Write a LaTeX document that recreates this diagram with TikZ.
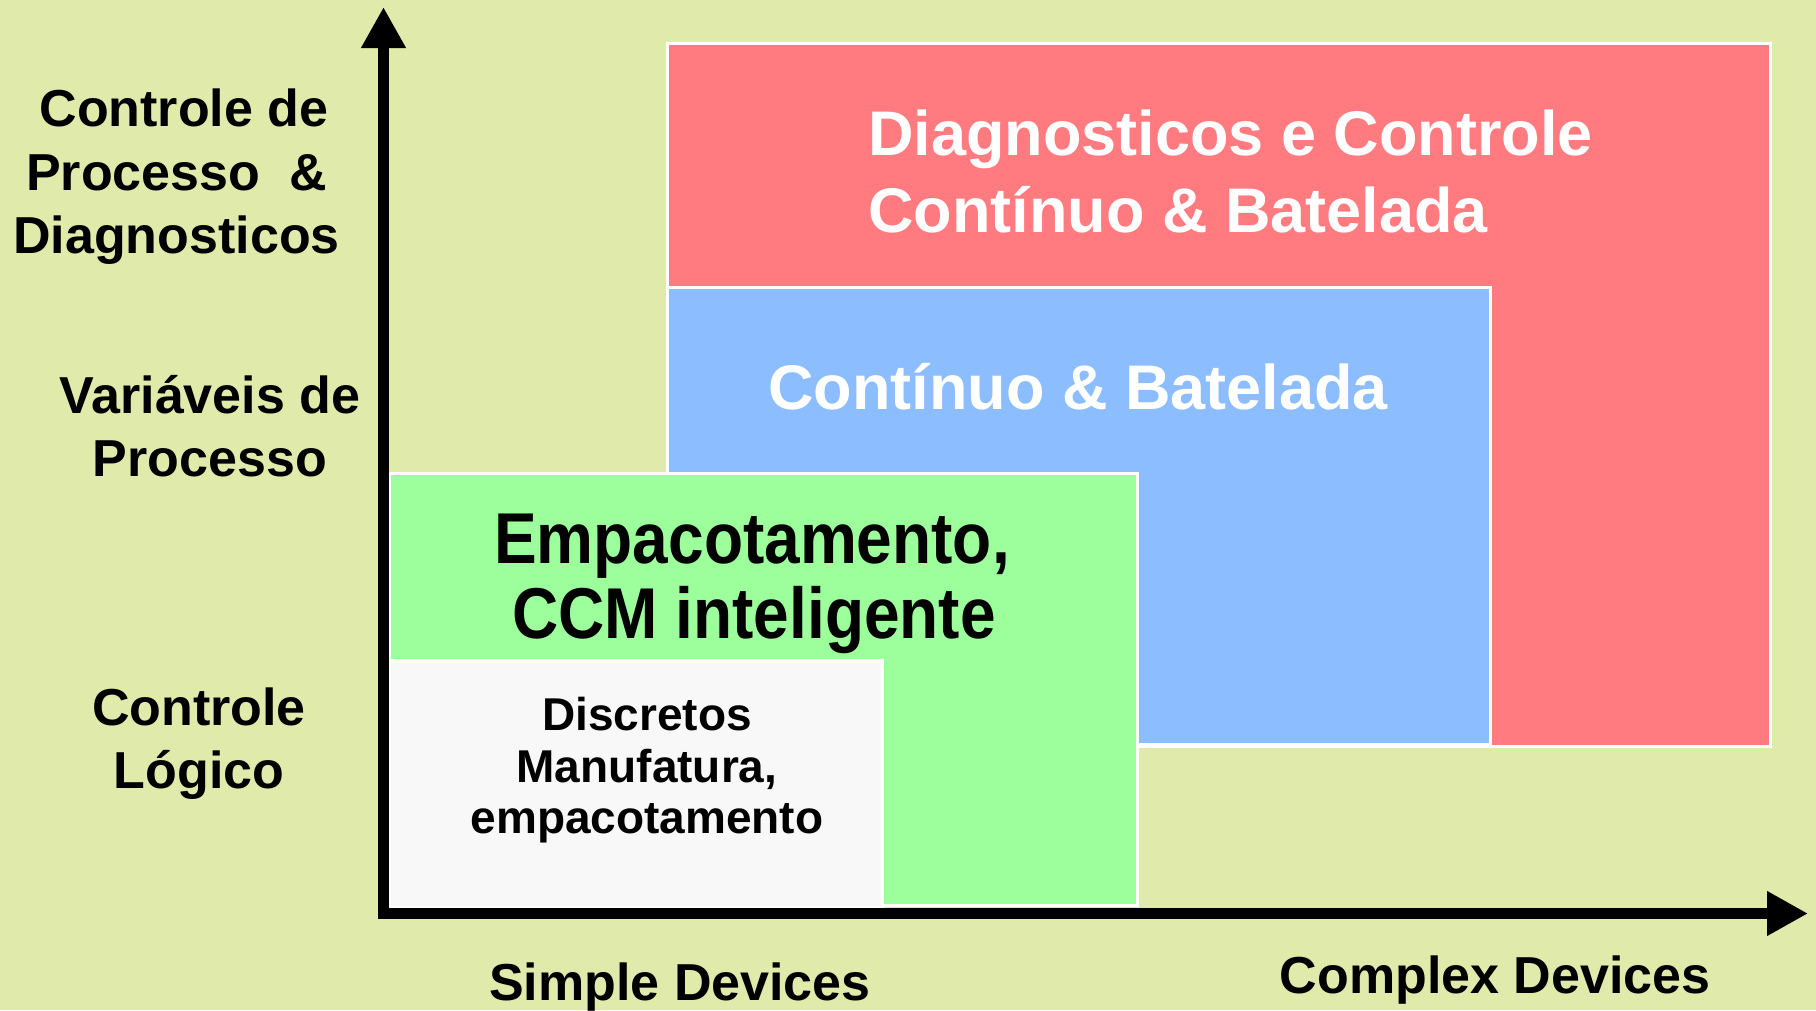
\documentclass[tikz,border=0pt]{standalone}
\usepackage{fontspec}
\usepackage{graphicx}
\setmainfont{Liberation Sans}
\usetikzlibrary{arrows.meta}
\definecolor{bgc}{HTML}{E0EAAB}
\definecolor{redc}{HTML}{FF7B80}
\definecolor{bluec}{HTML}{8CBEFF}
\definecolor{greenc}{HTML}{9CFF9C}
\definecolor{whitec}{HTML}{F8F8F8}
\begin{document}
\begin{tikzpicture}[x=1pt,y=-1pt,
  area/.style={draw=white,line width=3pt,anchor=north west,inner sep=0pt,outer sep=0pt},
  lbl/.style={anchor=base,inner sep=0pt,font=\fontsize{52}{62}\selectfont\bfseries},
  disc/.style={anchor=base,inner sep=0pt,font=\fontsize{46}{52}\selectfont\bfseries},
  big/.style={inner sep=0pt,text=white,font=\fontsize{63}{77}\selectfont\bfseries},
  grn/.style={anchor=base,inner sep=0pt,font=\fontsize{64}{77}\selectfont\bfseries},
  axisline/.style={line width=11pt,line join=miter,
    {Triangle[length=41pt,width=42pt]}-{Triangle[length=41pt,width=42pt]}}
]
\useasboundingbox (0,0) rectangle (1816,1010);
\clip (0,0) rectangle (1816,1010);
\fill[bgc] (0,0) rectangle (1816,1010);
% areas
\node[area,fill=redc,minimum width=1103pt,minimum height=703pt] (diag) at (667,43) {};
\node[area,fill=bluec,minimum width=823pt,minimum height=457pt] (cont) at (667,287) {};
\node[area,fill=greenc,minimum width=748pt,minimum height=432pt] (pack) at (389,473) {};
\node[area,fill=whitec,minimum width=493pt,minimum height=247pt] (disc) at (389,660) {};
% axes
\coordinate (ytip) at (383.5,7);
\coordinate (O) at (383.5,913.5);
\coordinate (xtip) at (1808,913.5);
\draw[axisline] (ytip) -- (O) -- (xtip);
% area texts
\node[big,anchor=base west] (dt1) at (868,155) {Diagnosticos e Controle};
\node[big,anchor=base west] (dt2) at (868,232) {Contínuo \& Batelada};
\node[big,anchor=base] (ct1) at (1078,409) {Contínuo \& Batelada};
\node[grn] (pt1) at (752,563) {\scalebox{1}[1.125]{Empacotamento,}};
\node[grn] (pt2) at (754,638) {\scalebox{1}[1.125]{CCM inteligente}};
\node[disc] (ds1) at (647,730) {Discretos};
\node[disc] (ds2) at (647,782) {Manufatura,};
\node[disc] (ds3) at (647,833) {empacotamento};
% axis labels
\node[lbl] (ya1) at (184,126) {Controle de};
\node[lbl] (ya2) at (176.5,190) {Processo~~\&};
\node[lbl] (ya3) at (176.5,253) {Diagnosticos};
\node[lbl] (yb1) at (210,413) {Variáveis de};
\node[lbl] (yb2) at (210,476) {Processo};
\node[lbl] (yc1) at (199,725) {Controle};
\node[lbl] (yc2) at (199,788) {Lógico};
\node[lbl] (xa) at (680,1000) {Simple Devices};
\node[lbl] (xb) at (1495,993) {Complex Devices};
\end{tikzpicture}
\end{document}
